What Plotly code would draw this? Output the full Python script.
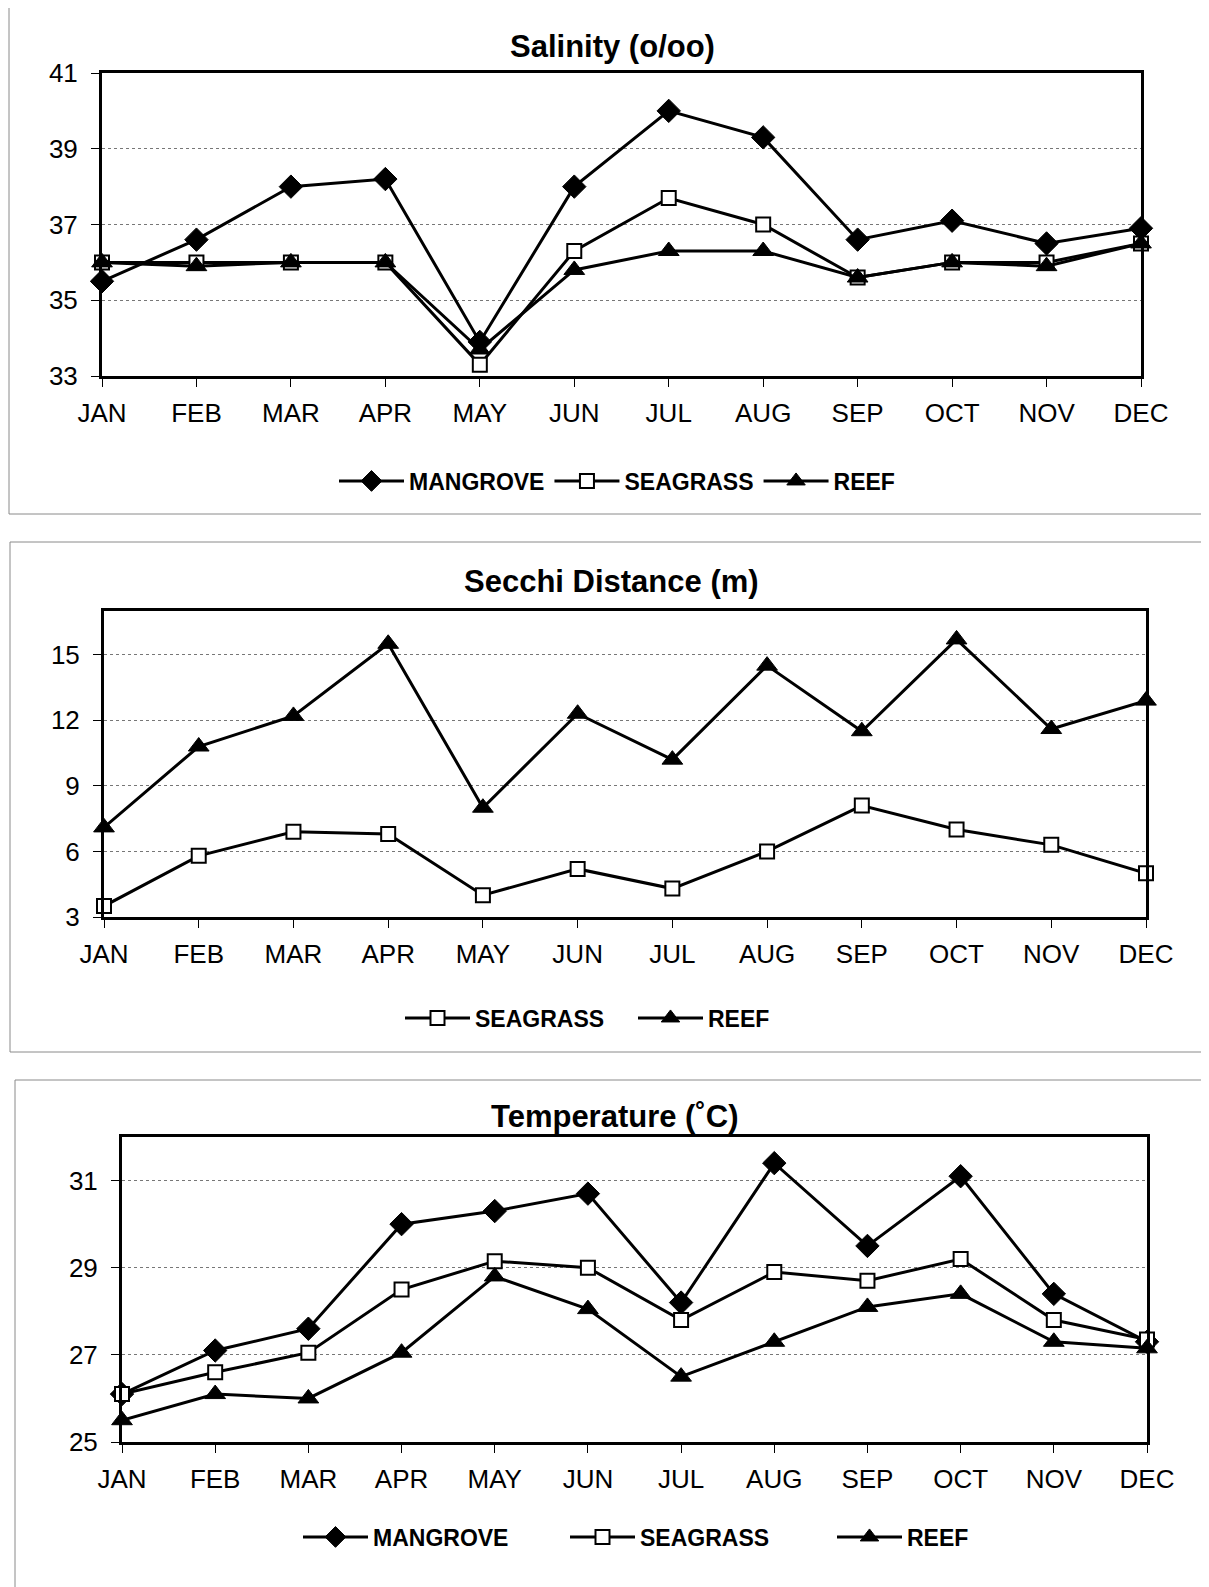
import plotly.graph_objects as go

W, H = 1209, 1587
OFF = 8  # page body margin compensation

months = ["JAN", "FEB", "MAR", "APR", "MAY", "JUN", "JUL", "AUG", "SEP", "OCT", "NOV", "DEC"]

# Salinity (o/oo)
sal_mangrove = [35.5, 36.6, 38.0, 38.2, 33.9, 38.0, 40.0, 39.3, 36.6, 37.1, 36.5, 36.9]
sal_seagrass = [36.0, 36.0, 36.0, 36.0, 33.3, 36.3, 37.7, 37.0, 35.6, 36.0, 36.0, 36.5]
sal_reef = [36.0, 35.9, 36.0, 36.0, 33.7, 35.8, 36.3, 36.3, 35.6, 36.0, 35.9, 36.5]

# Secchi distance (m)
sec_seagrass = [3.5, 5.8, 6.9, 6.8, 4.0, 5.2, 4.3, 6.0, 8.1, 7.0, 6.3, 5.0]
sec_reef = [7.1, 10.8, 12.2, 15.5, 8.0, 12.3, 10.2, 14.5, 11.5, 15.7, 11.6, 12.9]

# Temperature (C)
tmp_mangrove = [26.1, 27.1, 27.6, 30.0, 30.3, 30.7, 28.2, 31.4, 29.5, 31.1, 28.4, 27.3]
tmp_seagrass = [26.1, 26.6, 27.05, 28.5, 29.15, 29.0, 27.8, 28.9, 28.7, 29.2, 27.8, 27.35]
tmp_reef = [25.5, 26.1, 26.0, 27.05, 28.8, 28.05, 26.5, 27.3, 28.1, 28.4, 27.3, 27.15]

FONT = "Arial, Liberation Sans, sans-serif"

styles = {
    "MANGROVE": dict(symbol="diamond", size=18, color="black", line=dict(color="black", width=1)),
    "SEAGRASS": dict(symbol="square", size=14, color="white", line=dict(color="black", width=2)),
    "REEF": dict(symbol="triangle-up", size=18, color="black", line=dict(color="black", width=1)),
}

fig = go.Figure()


def fx(px):
    return (px - OFF) / W


def fy(py):
    return 1 - (py - OFF) / H


panels = [
    dict(n="", xd=(102, 1141), yd=(73, 376), rng=[33, 41], dt=2,
         series=[("MANGROVE", sal_mangrove), ("SEAGRASS", sal_seagrass), ("REEF", sal_reef)],
         title="Salinity (o/oo)", tx=612, ty=46, ly=481, lx=334, ew=None),
    dict(n="2", xd=(104, 1146), yd=(611, 917), rng=[3, 17], dt=3,
         series=[("SEAGRASS", sec_seagrass), ("REEF", sec_reef)],
         title="Secchi Distance (m)", tx=611, ty=581, ly=1018, lx=400, ew=153),
    dict(n="3", xd=(122, 1147), yd=(1137, 1442), rng=[25, 32], dt=2,
         series=[("MANGROVE", tmp_mangrove), ("SEAGRASS", tmp_seagrass), ("REEF", tmp_reef)],
         title="Temperature (˚C)", tx=614, ty=1116, ly=1537, lx=298, ew=187),
]

annotations = []
shapes = []
layout = {}

for p in panels:
    n = p["n"]
    for name, vals in p["series"]:
        fig.add_trace(go.Scatter(
            x=months, y=vals, name=name, mode="lines+markers",
            line=dict(color="black", width=3),
            marker=styles[name], cliponaxis=False,
            xaxis="x" + n, yaxis="y" + n, legend="legend" + n,
        ))
    x0, x1 = p["xd"]
    top, bottom = p["yd"]
    layout["xaxis" + n] = dict(
        domain=[fx(x0), fx(x1)], anchor="y" + n, type="category",
        range=[0, 11], showline=True, linecolor="black", linewidth=3, mirror=True,
        ticks="outside", ticklen=8, tickcolor="black", tickwidth=1,
        tickfont=dict(family=FONT, size=26, color="black"), showgrid=False,
        ticklabelstandoff=4, automargin=False,
    )
    layout["yaxis" + n] = dict(
        domain=[fy(bottom), fy(top)], anchor="x" + n, range=p["rng"], dtick=p["dt"],
        tick0=p["rng"][0],
        showline=True, linecolor="black", linewidth=3, mirror=True,
        ticks="outside", ticklen=8, tickcolor="black", tickwidth=1,
        tickfont=dict(family=FONT, size=26, color="black"),
        showgrid=True, gridcolor="#777", griddash="dot", gridwidth=1,
        zeroline=False, ticklabelstandoff=8, automargin=False,
    )
    leg = dict(
        orientation="h", xanchor="left", yanchor="middle", x=fx(p["lx"]), y=fy(p["ly"]),
        xref="paper", yref="paper",
        font=dict(family=FONT, size=23, color="black", weight="bold"),
        itemwidth=65, bgcolor="rgba(0,0,0,0)", tracegroupgap=0,
    )
    if p["ew"]:
        leg["entrywidth"] = p["ew"]
        leg["entrywidthmode"] = "pixels"
    layout["legend" + n] = leg
    annotations.append(dict(
        text=p["title"], x=fx(p["tx"]), y=fy(p["ty"]), xref="paper", yref="paper",
        showarrow=False, xanchor="center", yanchor="middle",
        font=dict(family=FONT, size=31, color="black", weight="bold"),
    ))

frames = [(9, 7, 1204, 514), (10, 542, 1204, 1052), (15, 1080, 1204, 1610)]
for a, b, c, d in frames:
    shapes.append(dict(type="rect", xref="paper", yref="paper",
                       x0=fx(a), x1=fx(c), y0=fy(d), y1=fy(b),
                       line=dict(color="#8a8a8a", width=1)))

fig.update_layout(
    width=W, height=H, margin=dict(l=0, r=0, t=0, b=0, pad=0, autoexpand=False),
    paper_bgcolor="white", plot_bgcolor="white",
    annotations=annotations, shapes=shapes, showlegend=True,
    **layout,
)

fig.write_html("out.html", config={"responsive": False})
